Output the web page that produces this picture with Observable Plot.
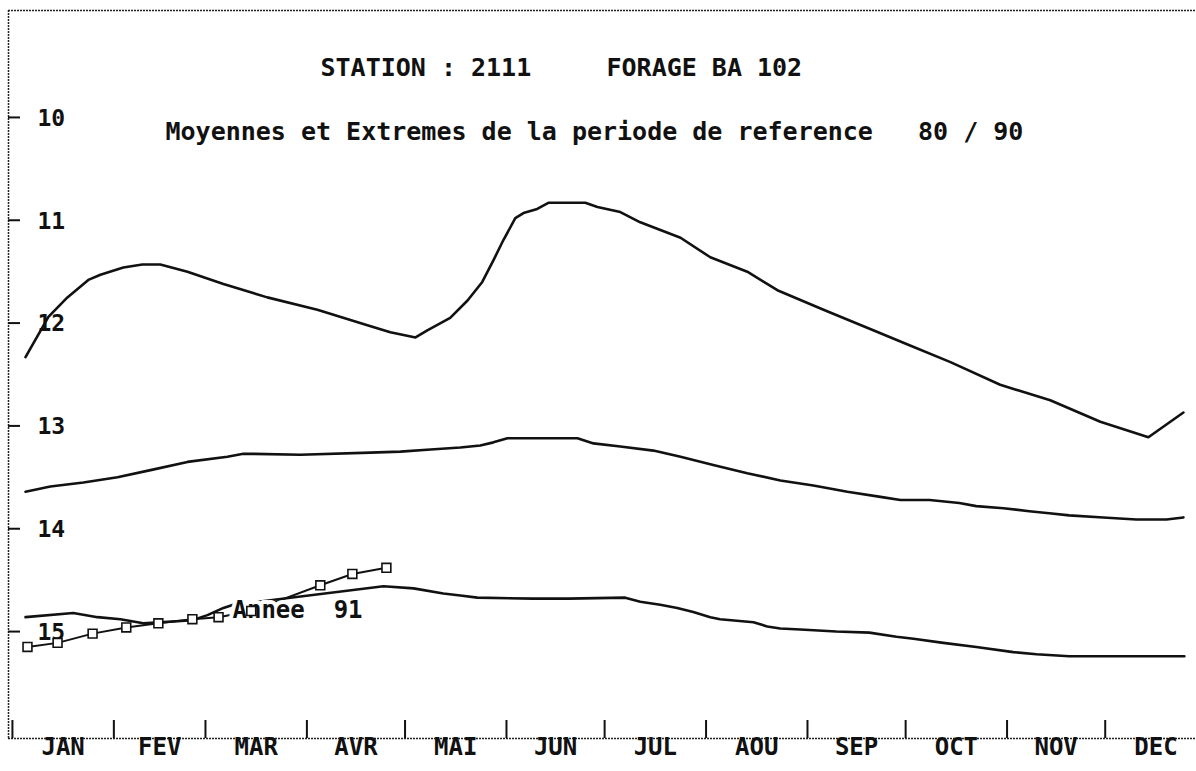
<!DOCTYPE html>
<html>
<head>
<meta charset="utf-8">
<script src="https://cdn.jsdelivr.net/npm/d3@7"></script>
<script src="https://cdn.jsdelivr.net/npm/@observablehq/plot@0.6"></script>
<style>
  body { margin: 0; background: #fff; }
  #chart svg text { white-space: pre; }
</style>
</head>
<body>
<div id="chart"></div>
<script>
// ---- Data (depth of water table, m; days since 1 January) ----
const monthLabels = ["JAN","FEV","MAR","AVR","MAI","JUN","JUL","AOU","SEP","OCT","NOV","DEC"];
const monthStarts = [0,31,59,90,120,151,181,212,243,273,304,334];
const monthEnds   = [31,59,90,120,151,181,212,243,273,304,334,365];
const yTicks = [10,11,12,13,14,15];

const titleText = "STATION : 2111     FORAGE BA 102";
const subtitleText = "Moyennes et Extremes de la periode de reference   80 / 90";
const yearLabel = "Annee  91";

// Extreme (shallowest) level, reference period 80/90
const shallowDays  = [4.0, 11.0, 16.8, 23.2, 26.9, 33.9, 39.7, 45.2, 53.5, 64.5, 77.9, 93.2, 108.5, 115.5, 123.2, 126.8, 133.8, 139.1, 143.6, 147.0, 150.1, 153.7, 156.2, 160.4, 163.8, 175.1, 178.8, 185.8, 191.9, 204.2, 213.3, 224.6, 233.8, 247.9, 263.1, 273.8, 286.7, 301.9, 317.2, 332.5, 347.2, 357.9];
const shallowDepth = [12.33, 11.94, 11.75, 11.58, 11.53, 11.46, 11.43, 11.43, 11.50, 11.62, 11.75, 11.87, 12.02, 12.09, 12.14, 12.07, 11.95, 11.78, 11.60, 11.39, 11.19, 10.98, 10.93, 10.89, 10.83, 10.83, 10.87, 10.92, 11.02, 11.17, 11.36, 11.50, 11.68, 11.87, 12.07, 12.21, 12.38, 12.60, 12.75, 12.96, 13.11, 12.87];

// Mean level
const meanDays  = [4.0, 11.6, 21.7, 32.1, 42.2, 53.5, 65.7, 70.6, 88.0, 109.4, 118.6, 127.8, 136.9, 143.0, 147.0, 151.3, 172.7, 177.6, 185.8, 195.9, 204.2, 214.2, 224.6, 234.7, 244.8, 255.2, 265.3, 271.4, 280.3, 289.4, 294.6, 302.9, 310.8, 316.9, 323.0, 333.4, 343.5, 352.7, 357.9];
const meanDepth = [13.64, 13.59, 13.55, 13.50, 13.43, 13.35, 13.30, 13.27, 13.28, 13.26, 13.25, 13.23, 13.21, 13.19, 13.16, 13.12, 13.12, 13.17, 13.20, 13.24, 13.30, 13.38, 13.46, 13.53, 13.58, 13.64, 13.69, 13.72, 13.72, 13.75, 13.78, 13.80, 13.83, 13.85, 13.87, 13.89, 13.91, 13.91, 13.89];

// Extreme (deepest) level
const deepDays  = [4.0, 18.6, 26.0, 33.0, 40.0, 55.0, 59.6, 64.5, 67.5, 113.4, 122.6, 131.7, 136.9, 142.1, 159.2, 169.9, 187.3, 191.9, 198.0, 203.2, 208.1, 213.3, 216.3, 226.5, 230.7, 234.7, 240.8, 251.8, 261.9, 270.2, 275.4, 284.5, 294.6, 305.9, 313.0, 323.0, 358.2];
const deepDepth = [14.86, 14.82, 14.86, 14.88, 14.92, 14.89, 14.84, 14.77, 14.74, 14.56, 14.58, 14.63, 14.65, 14.67, 14.68, 14.68, 14.67, 14.71, 14.74, 14.77, 14.81, 14.86, 14.88, 14.91, 14.95, 14.97, 14.98, 15.00, 15.01, 15.05, 15.07, 15.11, 15.15, 15.20, 15.22, 15.24, 15.24];

// Year 1991 readings
const year91Days  = [4.6, 13.8, 24.5, 34.8, 44.6, 55.0, 63.0, 73.0, 94.1, 103.9, 114.3];
const year91Depth = [15.15, 15.11, 15.02, 14.96, 14.92, 14.88, 14.86, 14.80, 14.55, 14.44, 14.38];

// ---- Build tables ----
const toRows = (days, depths) => days.map((d, i) => ({day: d, depth: depths[i]}));
const shallow = toRows(shallowDays, shallowDepth);
const mean = toRows(meanDays, meanDepth);
const deep = toRows(deepDays, deepDepth);
const year91 = toRows(year91Days, year91Depth);
const months = monthLabels.map((m, i) => ({label: m, mid: (monthStarts[i] + monthEnds[i]) / 2}));

const W = 1196, H = 771;
const mL = 8, mR = 0, mT = 10, mB = 33;
const xDomain = [-1.2, 361.9];
const yDomain = [8.96, 16.04];
const font = "'DejaVu Sans Mono', 'Liberation Mono', monospace";
const nb = s => s.replace(/ /g, "\u00A0");

const lineStyle = {x: "day", y: "depth", stroke: "#111", strokeWidth: 2.6};

const chart = Plot.plot({
  width: W, height: H,
  marginLeft: mL, marginRight: mR, marginTop: mT, marginBottom: mB,
  x: {domain: xDomain, axis: null},
  y: {domain: yDomain, reverse: true, axis: null},
  style: {fontFamily: font, fontWeight: "bold", background: "#fff", color: "#111"},
  marks: [
    // frame lines (left, top, bottom)
    Plot.ruleX([xDomain[0]], {stroke: "#222", strokeWidth: 1.5, strokeDasharray: "2,1"}),
    Plot.ruleY(yDomain, {stroke: "#222", strokeWidth: 1.5, strokeDasharray: "2,1"}),
    // y ticks (inward) and labels
    Plot.tickY(yTicks, {y: d => d, insetRight: W - mL - mR - 12, stroke: "#111", strokeWidth: 2}),
    Plot.text(yTicks, {y: d => d, text: d => String(d), frameAnchor: "left", dx: 29, dy: 1,
      textAnchor: "start", fontSize: 23, fill: "#111"}),
    // month boundary ticks and labels
    Plot.tickX(monthStarts, {x: d => d, insetTop: H - mT - mB - 18, stroke: "#111", strokeWidth: 2}),
    Plot.text(months, {x: "mid", text: "label", frameAnchor: "bottom", dy: 16,
      fontSize: 24, fill: "#111"}),
    // series
    Plot.line(shallow, lineStyle),
    Plot.line(mean, lineStyle),
    Plot.line(deep, lineStyle),
    Plot.line(year91, {...lineStyle, strokeWidth: 2}),
    // annotation (white halo hides the lines behind it)
    Plot.text([yearLabel], {text: d => nb(d), frameAnchor: "top-left", dx: 224, dy: 590,
      textAnchor: "start", fontSize: 24, fill: "#111", stroke: "#fff", strokeWidth: 8,
      paintOrder: "stroke"}),
    Plot.dot(year91, {x: "day", y: "depth", symbol: "square", r: 5, stroke: "#111", fill: "#fff", strokeWidth: 1.6}),
    // titles inside the frame
    Plot.text([titleText], {text: d => nb(d), frameAnchor: "top-left", dx: 312, dy: 48,
      textAnchor: "start", fontSize: 25, fill: "#111"}),
    Plot.text([subtitleText], {text: d => nb(d), frameAnchor: "top-left", dx: 157, dy: 112,
      textAnchor: "start", fontSize: 25, fill: "#111"})
  ]
});
document.getElementById("chart").appendChild(chart);
</script>
</body>
</html>
